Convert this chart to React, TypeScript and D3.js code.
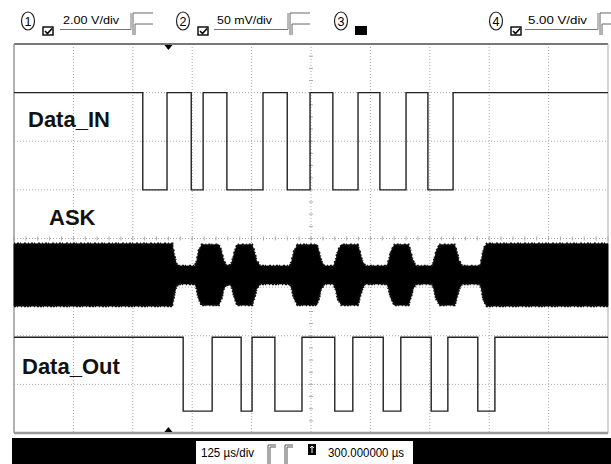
import React from "react";
import * as d3 from "d3";

// ---- Data (time in µs, vertical in divisions) ----
const timeDomain = [-325, 925]; // 125 µs/div, 10 div, centre at 300 µs
const vDivs = [-4, -3, -2, -1, 0, 1, 2, 3, 4];

// Data_IN (ch1): transition times and logic states
const dataInT = [-325, -54, -3, 48, 73, 123, 199, 250, 298, 346, 399, 445, 500, 546, 599, 925];
const dataInS = [1, 0, 1, 0, 1, 0, 1, 0, 1, 0, 1, 0, 1, 0, 1, 1];
const dataInLevels = { high: 3.0, low: 1.0 };

// Data_Out (ch4)
const dataOutT = [-325, 31, 92, 153, 176, 224, 281, 350, 388, 452, 489, 553, 588, 651, 687, 925];
const dataOutS = [1, 0, 1, 0, 1, 0, 1, 0, 1, 0, 1, 0, 1, 0, 1, 1];
const dataOutLevels = { high: -2.03, low: -3.55 };

// ASK (ch2) envelope: time and half-amplitude (div)
const askCenter = -0.75;
const askT = [-325, 8, 12, 17, 24, 56, 60, 64, 70, 106, 111, 116, 121, 131, 135, 140, 145, 176, 180, 185, 193, 256, 260, 265, 272, 312, 316, 321, 328, 348, 352, 357, 364, 398, 402, 407, 414, 460, 464, 469, 476, 505, 509, 514, 521, 555, 559, 564, 571, 602, 606, 611, 618, 656, 660, 664, 670, 925];
const askA = [0.64, 0.64, 0.4, 0.22, 0.185, 0.185, 0.3, 0.5, 0.62, 0.62, 0.5, 0.3, 0.2, 0.2, 0.3, 0.5, 0.62, 0.62, 0.5, 0.3, 0.185, 0.185, 0.3, 0.5, 0.62, 0.62, 0.5, 0.3, 0.185, 0.185, 0.3, 0.5, 0.62, 0.62, 0.5, 0.3, 0.185, 0.185, 0.3, 0.5, 0.62, 0.62, 0.5, 0.3, 0.185, 0.185, 0.3, 0.5, 0.62, 0.62, 0.5, 0.3, 0.185, 0.185, 0.35, 0.55, 0.64, 0.64];

const channelScales = ["2.00 V/div", "50 mV/div", "", "5.00 V/div"];
const timebaseLabel = "125 µs/div";
const delayLabel = "300.000000 µs";
const traceLabels = ["Data_IN", "ASK", "Data_Out"];

const W = 611;
const H = 464;
const X0 = 14, X1 = 608, Y0 = 44, Y1 = 433;

export default function App() {
  const x = d3.scaleLinear().domain(timeDomain).range([X0, X1]);
  const y = d3.scaleLinear().domain([4, -4]).range([Y0, Y1]);

  const vGrid = d3.range(1, 10).map((k) => timeDomain[0] + 125 * k);
  const hGrid = vDivs.slice(1, -1);

  const stepLine = d3
    .line<[number, number]>()
    .x((d) => x(d[0]))
    .y((d) => y(d[1]))
    .curve(d3.curveStepAfter);

  const inPts: [number, number][] = dataInT.map((t, i) => [t, dataInS[i] ? dataInLevels.high : dataInLevels.low]);
  const outPts: [number, number][] = dataOutT.map((t, i) => [t, dataOutS[i] ? dataOutLevels.high : dataOutLevels.low]);

  const askArea = d3
    .area<number>()
    .x((_, i) => x(askT[i]))
    .y0((_, i) => y(askCenter - askA[i]))
    .y1((_, i) => y(askCenter + askA[i]))
    .curve(d3.curveLinear);
  const askTop = d3.line<number>().x((_, i) => x(askT[i])).y((_, i) => y(askCenter + askA[i]));
  const askBot = d3.line<number>().x((_, i) => x(askT[i])).y((_, i) => y(askCenter - askA[i]));

  // minor ticks on centre axes
  const vMinor = d3.range(-4, 4.001, 0.25).map((v) => y(v));
  const hMinor = d3.range(timeDomain[0], timeDomain[1] + 0.1, 25).map((t) => x(t));
  const cx = x(300);
  const cy = y(0);

  const font = "'Liberation Sans', Arial, sans-serif";

  const header = [
    { n: "1", cx: 28, label: channelScales[0], tx: 63, tw: 56, on: true, glyph: 133 },
    { n: "2", cx: 183, label: channelScales[1], tx: 217, tw: 55, on: true, glyph: 290 },
    { n: "3", cx: 341, label: "", tx: 0, tw: 0, on: false, glyph: 0 },
    { n: "4", cx: 496, label: channelScales[3], tx: 528, tw: 59, on: true, glyph: 600 },
  ];

  return (
    <div style={{ position: "absolute", left: 0, top: 0 }}>
      <svg width={W} height={H} style={{ display: "block", background: "#fff" }}>
        {/* header */}
        {header.map((h) => (
          <g key={h.n} fontFamily={font}>
            <ellipse cx={h.cx} cy={21} rx={6.5} ry={9} fill="#fff" stroke="#222" strokeWidth={1.2} />
            <text x={h.cx} y={25.5} fontSize={12.5} textAnchor="middle" fill="#000">{h.n}</text>
            {h.on ? (
              <g>
                <rect x={h.cx + 15} y={27} width={10} height={8} fill="#fff" stroke="#000" strokeWidth={1.4} />
                <path d={`M${h.cx + 17} ${31} L${h.cx + 19.5} ${33.5} L${h.cx + 24} ${28.5}`} fill="none" stroke="#000" strokeWidth={1.6} />
                <text x={h.tx} y={24} fontSize={11.5} textLength={h.tw} lengthAdjust="spacingAndGlyphs" fill="#000">{h.label}</text>
                <path d={`M${h.tx - 3} 29.5 H${h.glyph - 2} V13`} fill="none" stroke="#777" strokeWidth={1} />
                <path d={`M${h.glyph} 35 V13 H${h.glyph + 20} M${h.glyph + 2} 35 V24 H${h.glyph + 20}`} fill="none" stroke="#666" strokeWidth={1} />
              </g>
            ) : (
              <rect x={h.cx + 14} y={26} width={12} height={9} fill="#000" />
            )}
          </g>
        ))}

        {/* grid */}
        {vGrid.map((t) => (
          <line key={"v" + t} x1={x(t)} x2={x(t)} y1={Y0} y2={Y1} stroke="#aaa" strokeWidth={1} strokeDasharray="1,2" />
        ))}
        {hGrid.map((v) => (
          <line key={"h" + v} x1={X0} x2={X1} y1={y(v)} y2={y(v)} stroke="#aaa" strokeWidth={1} strokeDasharray="1,2" />
        ))}
        {vMinor.map((yy, i) => (
          <line key={"vm" + i} x1={cx - 2} x2={cx + 2} y1={yy} y2={yy} stroke="#aaa" strokeWidth={1} />
        ))}
        {hMinor.map((xx, i) => (
          <line key={"hm" + i} x1={xx} x2={xx} y1={cy - 2} y2={cy + 2} stroke="#aaa" strokeWidth={1} />
        ))}

        {/* border */}
        <line x1={X0} x2={X1} y1={Y0} y2={Y0} stroke="#777" strokeWidth={2} />
        <line x1={X0} x2={X1} y1={Y1} y2={Y1} stroke="#999" strokeWidth={2.5} />
        <line x1={X0} x2={X0} y1={Y0} y2={Y1} stroke="#999" strokeWidth={1.5} />
        <line x1={X1} x2={X1} y1={Y0} y2={Y1} stroke="#aaa" strokeWidth={1} />

        {/* trigger markers */}
        <path d={`M${x(0) - 4} ${Y0 + 1} L${x(0) + 4} ${Y0 + 1} L${x(0)} ${Y0 + 6} Z`} fill="#000" />
        <path d={`M${x(0) - 4} ${Y1 - 1} L${x(0) + 4} ${Y1 - 1} L${x(0)} ${Y1 - 6} Z`} fill="#000" />

        {/* traces */}
        <path d={askArea(askT) || ""} fill="#000" stroke="#000" strokeWidth={0.8} />
        <path d={askTop(askT) || ""} fill="none" stroke="#111" strokeWidth={2.5} strokeDasharray="1 2 2 1 1 3 2 2" />
        <path d={askBot(askT) || ""} fill="none" stroke="#111" strokeWidth={2.5} strokeDasharray="2 1 1 3 1 2 2 1" />
        <path d={stepLine(inPts) || ""} fill="none" stroke="#222" strokeWidth={1.4} />
        <path d={stepLine(outPts) || ""} fill="none" stroke="#222" strokeWidth={1.4} />

        {/* labels */}
        <g fontFamily={font} fontWeight="bold" fontSize={22} fill="#111">
          <text x={28} y={127}>{traceLabels[0]}</text>
          <text x={49} y={225}>{traceLabels[1]}</text>
          <text x={22} y={374}>{traceLabels[2]}</text>
        </g>

        {/* bottom bar */}
        <rect x={12} y={438} width={W - 12} height={H - 438} fill="#000" />
        <rect x={196} y={441} width={217} height={H - 441} fill="#fff" />
        <g fontFamily={font} fontSize={12} fill="#000">
          <text x={201} y={457} textLength={53} lengthAdjust="spacingAndGlyphs">{timebaseLabel}</text>
          <text x={328} y={457} textLength={76} lengthAdjust="spacingAndGlyphs">{delayLabel}</text>
        </g>
        <path d="M268 464 V445 H276 M270 464 V447 H276 M285 464 V445 H293 M287 464 V447 H293" fill="none" stroke="#555" strokeWidth={1} />
        <rect x={308} y={444} width={8} height={11} fill="#000" />
        <path d="M312 453 V447 M310 448 L312 446 L314 448" fill="none" stroke="#fff" strokeWidth={1} />
      </svg>
    </div>
  );
}
